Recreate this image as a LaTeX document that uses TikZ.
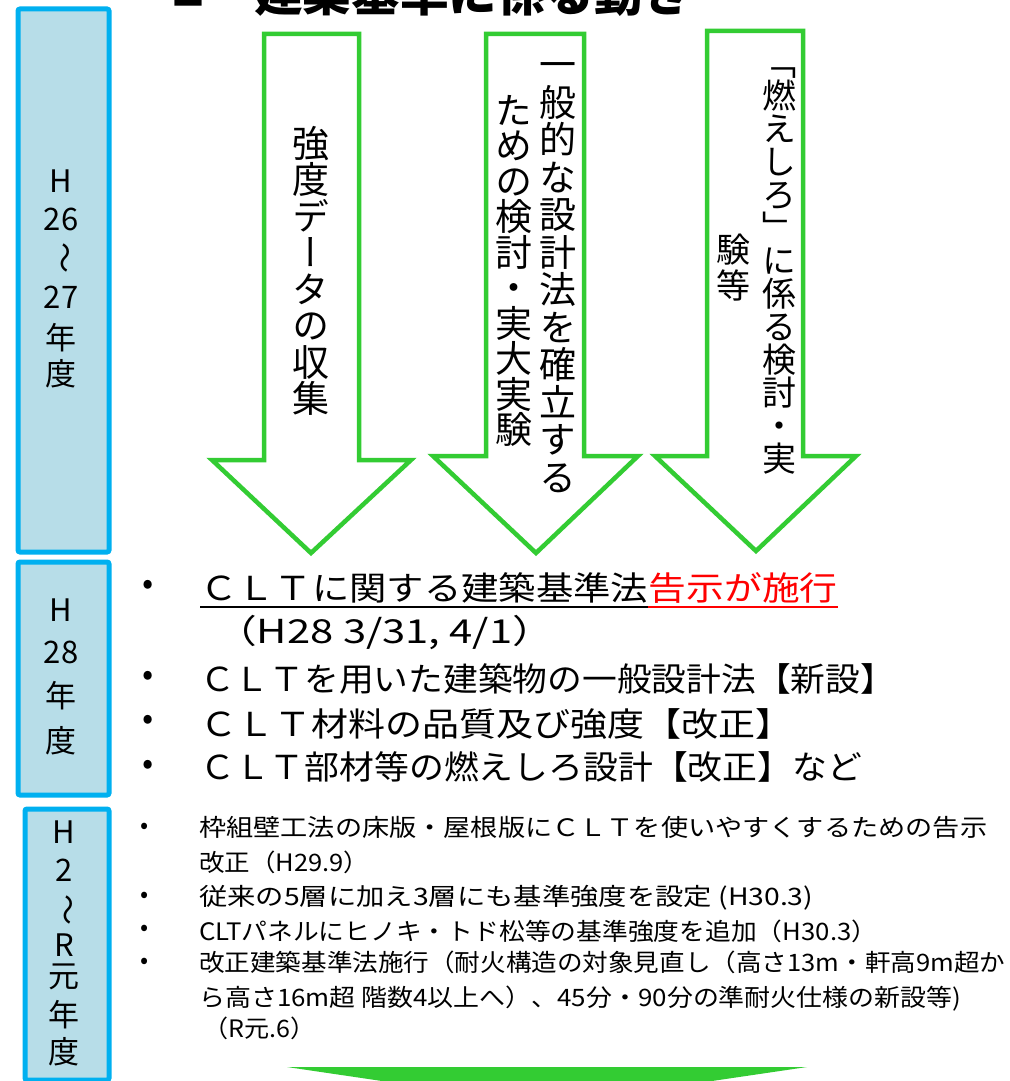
\documentclass[tikz,border=0pt]{standalone}
\usepackage{fontspec}
\setmainfont{Noto Sans CJK JP}
\newfontfamily\vfont{Noto Sans CJK JP}[RawFeature=+vert]
\definecolor{boxblue}{HTML}{00B0F0}
\definecolor{boxfill}{HTML}{B7DDE8}
\definecolor{arrgreen}{HTML}{33CC33}
\definecolor{hlred}{HTML}{FF0000}
\newcommand{\fitw}[2]{\resizebox{#1}{\height}{#2}}
\tikzset{
  yearbox/.style={draw=boxblue, fill=boxfill, line width=5pt, rounded corners=2pt, inner sep=0pt},
  yeartext/.style={font=\fontsize{31}{31}\selectfont, inner sep=0pt},
  arrowshape/.style={draw=arrgreen, fill=white, line width=4.5pt, line join=miter},
  vchar/.style={font=\vfont\fontsize{37}{37}\selectfont, inner sep=0pt, anchor=base},
  vcharsm/.style={font=\vfont\fontsize{34}{34}\selectfont, inner sep=0pt, anchor=base},
  bul/.style={font=\fontsize{33}{33}\selectfont, inner sep=0pt},
  bulsm/.style={font=\fontsize{24}{24}\selectfont, inner sep=0pt},
  lbig/.style={font=\fontsize{33}{40}\selectfont, inner sep=0pt, anchor=base west},
  lsm/.style={font=\fontsize{24}{28}\selectfont, inner sep=0pt, anchor=base west},
}
\begin{document}
\begin{tikzpicture}[x=1pt,y=-1pt]
\useasboundingbox (0,0) rectangle (1009,1081);
\fill[white] (0,0) rectangle (1009,1081);

% title (cut off at the top)
\node[font=\fontsize{34}{34}\selectfont, inner sep=0pt] (sq) at (188.5,-7) {■};
\node[font=\fontsize{48.6}{50}\selectfont\bfseries, anchor=base west, inner sep=0pt] (title) at (254,12) {建築基準に係る動き};

% year boxes
\node[yearbox, anchor=north west, minimum width=91pt, minimum height=543pt] (box1) at (15.5,6.5) {};
\node[yearbox, anchor=north west, minimum width=91pt, minimum height=233pt] (box2) at (15.5,559.5) {};
\node[yearbox, anchor=north west, minimum width=84pt, minimum height=271pt] (box3) at (22.5,806.5) {};

\foreach \t/\yy [count=\i] in {H/181, 26/219, {\rotatebox[origin=c]{-90}{～}}/258, 27/297, 年/338, 度/374}
  \node[yeartext] (ya\i) at (61,\yy) {\t};
\foreach \t/\yy [count=\i] in {H/610, 28/652, 年/696, 度/741}
  \node[yeartext] (yb\i) at (61,\yy) {\t};
\foreach \t/\yy [count=\i] in {H/832, 2/870, {\rotatebox[origin=c]{-90}{～}}/910, R/945, 元/977, 年/1015, 度/1052}
  \node[yeartext] (yc\i) at (64,\yy) {\t};

% green outline arrows
\draw[arrowshape] (264,34) -- (359,34) -- (359,460) -- (411,460) -- (311,553) -- (212,460) -- (264,460) -- cycle;
\draw[arrowshape] (486,34) -- (584,34) -- (584,456) -- (638,456) -- (536,553) -- (433,456) -- (486,456) -- cycle;
\draw[arrowshape] (707,31) -- (803,31) -- (803,456) -- (856,456) -- (756,551) -- (655,456) -- (707,456) -- cycle;

% vertical texts in arrows
\foreach \ch [count=\i] in {強,度,デ,ー,タ,の,収,集}
  \node[vchar] (a1-\i) at (311,{143.25+(\i-1)*36.5+0.38*37}) {\ch};
\foreach \ch [count=\i] in {一,般,的,な,設,計,法,を,確,立,す,る}
  \node[vchar] (a2r-\i) at (558,{64.75+(\i-1)*37.5+0.38*37}) {\ch};
\foreach \ch [count=\i] in {た,め,の,検,討,・,実,大,実,験}
  \node[vchar] (a2l-\i) at (514,{110+(\i-1)*35.5+0.38*37}) {\ch};
\foreach \ch [count=\i] in {「,燃,え,し,ろ,」,に,係,る,検,討,・,実}
  \node[vcharsm] (a3r-\i) at (779,{63+(\i-1)*33+0.38*34}) {\ch};
\foreach \ch [count=\i] in {験,等}
  \node[vcharsm] (a3l-\i) at (733,{250+(\i-1)*36+0.38*34}) {\ch};

% H28 items
\node[bul] (b1) at (148,587) {•};
\node[bul] (b3) at (148,678) {•};
\node[bul] (b4) at (148,722) {•};
\node[bul] (b5) at (148,767) {•};
\node[lbig] (h1a) at (200,600) {\fitw{448pt}{ＣＬＴに関する建築基準法}};
\node[lbig, text=hlred] (h1b) at (h1a.base east) {\fitw{189pt}{告示が施行}};
\draw[line width=2.2pt] ([yshift=-7pt]h1a.base west) -- ([yshift=-7pt]h1a.base east);
\draw[hlred, line width=2.2pt] ([yshift=-7pt]h1b.base west) -- ([yshift=-7pt]h1b.base east);
\node[lbig] (h2) at (215,643) {\fitw{339pt}{（H28 3/31, 4/1）}};
\node[lbig] (h3) at (200,691) {\fitw{695pt}{ＣＬＴを用いた建築物の一般設計法【新設】}};
\node[lbig] (h4) at (200,736) {\fitw{592pt}{ＣＬＴ材料の品質及び強度【改正】}};
\node[lbig] (h5) at (200,779) {\fitw{662pt}{ＣＬＴ部材等の燃えしろ設計【改正】など}};

% H29 - R1 items
\node[bulsm] (c1) at (145,828) {•};
\node[bulsm] (c3) at (145,897) {•};
\node[bulsm] (c4) at (145,930) {•};
\node[bulsm] (c5) at (145,963) {•};
\node[lsm] (r1) at (199,836) {\fitw{788pt}{枠組壁工法の床版・屋根版にＣＬＴを使いやすくするための告示}};
\node[lsm] (r2) at (199,871) {\fitw{170pt}{改正（H29.9）}};
\node[lsm] (r3) at (199,905) {\fitw{614pt}{従来の5層に加え3層にも基準強度を設定 (H30.3)}};
\node[lsm] (r4) at (199,940) {\fitw{678pt}{CLTパネルにヒノキ・トド松等の基準強度を追加（H30.3）}};
\node[lsm] (r5) at (199,971) {\fitw{806pt}{改正建築基準法施行（耐火構造の対象見直し（高さ13m・軒高9m超か}};
\node[lsm] (r6) at (199,1006) {\fitw{762pt}{ら高さ16m超 階数4以上へ）、45分・90分の準耐火仕様の新設等)}};
\node[lsm] (r7) at (203,1037) {\fitw{112pt}{（R元.6）}};

% bottom solid green arrow head (cut off)
\fill[arrgreen] (287,1067) -- (807,1067) -- (651,1090) -- (443,1090) -- cycle;
\end{tikzpicture}
\end{document}
